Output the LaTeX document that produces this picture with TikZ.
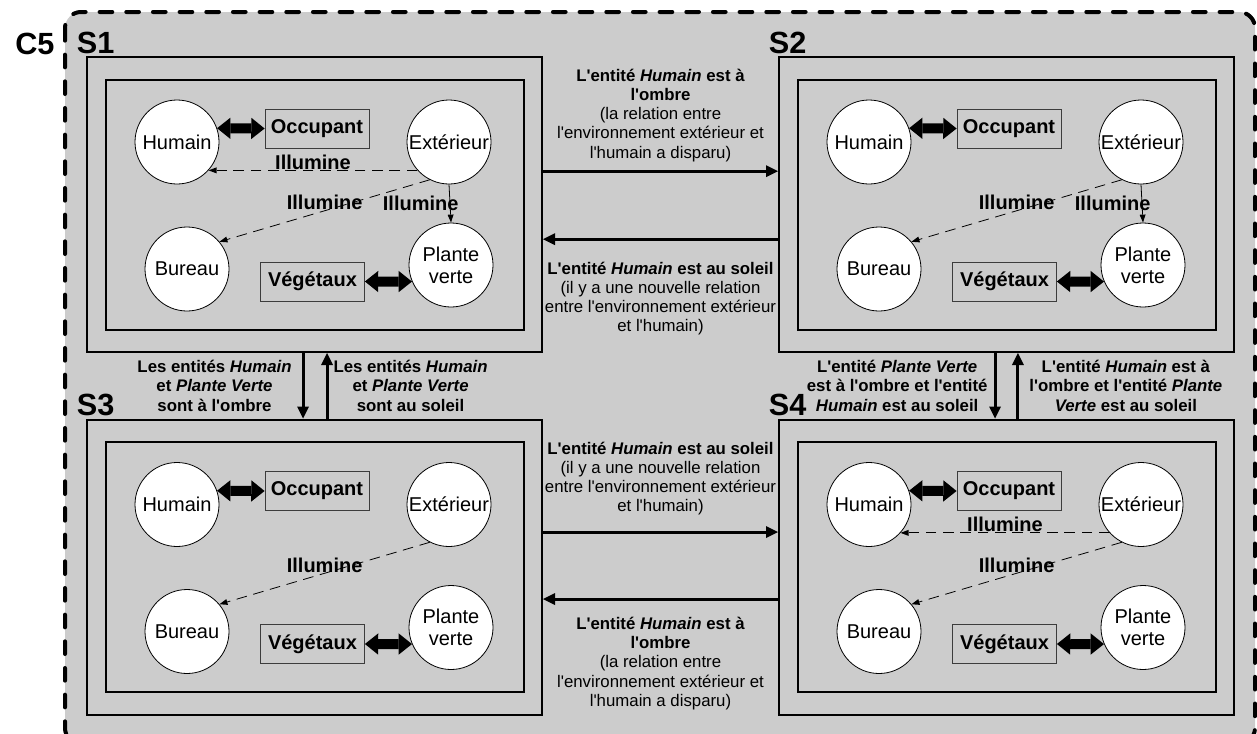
\documentclass[tikz,border=0pt]{standalone}
\usepackage{fontspec}
\setmainfont{Liberation Sans}[Ligatures=TeXOff]
\usetikzlibrary{arrows.meta}

\definecolor{bgGray}{RGB}{204,204,204}
\definecolor{roleLine}{RGB}{60,60,60}

\tikzset{
  frameC/.style={draw, fill=bgGray, line width=3pt, dash pattern=on 9.5pt off 10.5pt,
    line cap=round, rounded corners=12pt},
  panelBox/.style={draw, fill=bgGray, line width=1.5pt, inner sep=0pt,
    minimum width=341.25pt, minimum height=221.25pt},
  innerBox/.style={draw, fill=bgGray, line width=1.5pt, inner sep=0pt,
    minimum width=313.5pt, minimum height=187.5pt},
  entity/.style={circle, draw, fill=white, line width=0.6pt, minimum size=63pt,
    inner sep=0pt, align=center, font=\fontsize{15}{16.5}\selectfont},
  roleBox/.style={draw=roleLine, fill=bgGray, line width=0.6pt, inner sep=0pt,
    minimum width=78pt, minimum height=29.25pt, font=\fontsize{15}{18}\selectfont\bfseries},
  dblArrow/.style={{Triangle[length=10pt,width=16pt,line width=0pt]}-{Triangle[length=10pt,width=16pt,line width=0pt]},
    line width=7.5pt},
  illum/.style={-{Triangle[length=6pt,width=4.5pt,line width=0pt]}, line width=0.6pt,
    dash pattern=on 8pt off 5pt},
  illumSolid/.style={-{Triangle[length=6pt,width=4.5pt,line width=0pt]}, line width=0.6pt},
  lbl/.style={font=\fontsize{15}{18}\selectfont\bfseries, inner sep=0.5pt},
  trans/.style={-{Triangle[length=9pt,width=9pt,line width=0pt]}, line width=2.25pt},
  tLabel/.style={align=center, inner sep=0pt, font=\fontsize{12.6}{14.4}\selectfont},
  tLabelB/.style={tLabel, font=\fontsize{12.6}{14.4}\selectfont\bfseries},
  sitLabel/.style={font=\fontsize{23}{26}\selectfont\bfseries, inner sep=0pt}
}

% one situation: #1 = name (also its title), (#2,#3) = centre, in pixels
\newcommand{\drawSituation}[3]{%
  \node[panelBox] (#1) at (#2,#3) {};
  \node[innerBox] (#1in) at (#2,#3) {};
  \begin{scope}[shift={(#2,#3)}]
    \node[entity] (#1hum) at (-137.5,-62.5) {Humain};
    \node[entity] (#1ext) at (134.5,-62.5) {Extérieur};
    \node[entity] (#1bur) at (-127.5,64.5) {Bureau};
    \node[entity] (#1pla) at (136.5,60.5) {Plante\\verte};
    \node[roleBox] (#1occ) at (2.5,-76) {Occupant};
    \node[roleBox] (#1veg) at (-2,77) {Végétaux};
  \end{scope}
  \draw[dblArrow] (#1hum.19) -- (#1occ.west);
  \draw[dblArrow] (#1veg.east) -- (#1pla.203);
  \node[sitLabel, anchor=base west] (#1title) at ([xshift=-7pt,yshift=2.25pt]#1.north west) {#1};
}

\newcommand{\txtOmbre}{\textbf{L'entité \textit{Humain} est à}\\\textbf{l'ombre}\\(la relation entre\\l'environnement extérieur et\\l'humain a disparu)}
\newcommand{\txtSoleil}{\textbf{L'entité \textit{Humain} est au soleil}\\(il y a une nouvelle relation\\entre l'environnement extérieur\\et l'humain)}

\begin{document}
\begin{tikzpicture}[x=0.75pt, y=-0.75pt]
  \pgfmathsetmacro{\colA}{314.5}   % units of pixels
  \pgfmathsetmacro{\colB}{1006.5}  % units of pixels
  \pgfmathsetmacro{\rowA}{204.5}   % units of pixels
  \pgfmathsetmacro{\rowB}{567}     % units of pixels
  \useasboundingbox (0,0) rectangle (1257,733);
  \clip (0,0) rectangle (1257,733);

  % context C5, cut at the bottom
  \draw[frameC] (65,12) rectangle (1255,744);
  \node[sitLabel, anchor=base west] (c5) at (15,54) {C5};

  \drawSituation{S1}{\colA}{\rowA}
  \drawSituation{S2}{\colB}{\rowA}
  \drawSituation{S3}{\colA}{\rowB}
  \drawSituation{S4}{\colB}{\rowB}

  % Illumine links
  \draw[illum] (S1ext.222) -- node[lbl, above] {Illumine} (S1hum.318);
  \draw[illum] (S1ext.243) -- node[lbl, above] {Illumine} (S1bur.40);
  \draw[illumSolid] (S1ext.south) -- node[lbl, xshift=-22pt] {Illumine} (S1pla.north);
  \draw[illum] (S2ext.243) -- node[lbl, above] {Illumine} (S2bur.40);
  \draw[illumSolid] (S2ext.south) -- node[lbl, xshift=-22pt] {Illumine} (S2pla.north);
  \draw[illum] (S3ext.243) -- node[lbl, above] {Illumine} (S3bur.40);
  \draw[illum] (S4ext.222) -- node[lbl, above] {Illumine} (S4hum.318);
  \draw[illum] (S4ext.243) -- node[lbl, above] {Illumine} (S4bur.40);

  % transitions left / right
  \draw[trans] ([yshift=25pt]S1.east) -- node[tLabel, above=6pt] {\txtOmbre} ([yshift=25pt]S2.west);
  \draw[trans] ([yshift=-26pt]S2.west) -- node[tLabel, below=16pt] {\txtSoleil} ([yshift=-26pt]S1.east);
  \draw[trans] ([yshift=26.25pt]S3.east) -- node[tLabel, above=11.5pt] {\txtSoleil} ([yshift=26.25pt]S4.west);
  \draw[trans] ([yshift=-24pt]S4.west) -- node[tLabel, below=12.5pt] {\txtOmbre} ([yshift=-24pt]S3.east);

  % transitions up / down
  \draw[trans] ([xshift=-8.6pt]S1.south) -- node[tLabelB, left=7.5pt]
    {Les entités \textit{Humain}\\et \textit{Plante Verte}\\sont à l'ombre} ([xshift=-8.6pt]S3.north);
  \draw[trans] ([xshift=9.4pt]S3.north) -- node[tLabelB, right=3.75pt]
    {Les entités \textit{Humain}\\et \textit{Plante Verte}\\sont au soleil} ([xshift=9.4pt]S1.south);
  \draw[trans] ([xshift=-8.6pt]S2.south) -- node[tLabelB, left=4.5pt]
    {L'entité \textit{Plante Verte}\\est à l'ombre et l'entité\\\textit{Humain} est au soleil} ([xshift=-8.6pt]S4.north);
  \draw[trans] ([xshift=8.6pt]S4.north) -- node[tLabelB, right=7.5pt]
    {L'entité \textit{Humain} est à\\l'ombre et l'entité \textit{Plante}\\\textit{Verte} est au soleil} ([xshift=8.6pt]S2.south);
\end{tikzpicture}
\end{document}
